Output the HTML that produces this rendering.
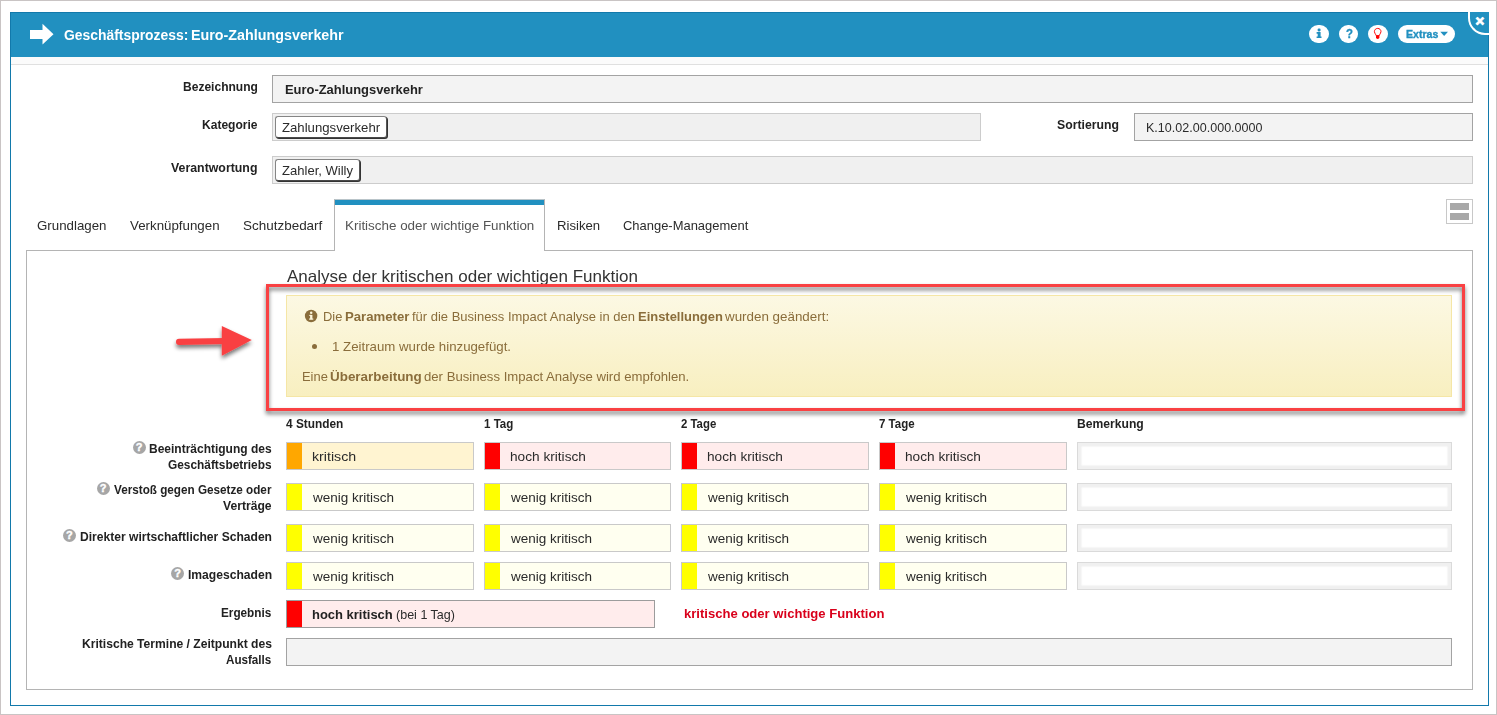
<!DOCTYPE html>
<html lang="de">
<head>
<meta charset="utf-8">
<title>Geschäftsprozess: Euro-Zahlungsverkehr</title>
<style>
html,body{margin:0;padding:0;}
body{width:1497px;height:715px;position:relative;overflow:hidden;background:#fff;font-family:"Liberation Sans",sans-serif;font-size:13px;color:#333;}
.abs,.t,.cell,.rem,.q,.box{position:absolute;box-sizing:border-box;}
.t{white-space:pre;line-height:20px;transform-origin:0 0;display:block;}
#frame{left:0;top:0;width:1497px;height:715px;border:1px solid #c9c4c4;}
#dlg{left:10px;top:12px;width:1479px;height:694px;border:1px solid #1279ab;background:#fff;}
#hdr{left:10px;top:12px;width:1479px;height:45px;background:#2190c0;border-top:1px solid #1279ab;border-left:1px solid #1279ab;border-right:1px solid #1279ab;overflow:hidden;}
#band{left:11px;top:57px;width:1477px;height:7px;background:#fbfbfb;border-bottom:1px solid #e0e0e0;box-sizing:content-box;}
.badge{position:absolute;top:25px;height:18px;background:#fff;border-radius:9px;}
#close{left:1468px;top:12px;width:21px;height:23px;border-left:2px solid #fff;border-bottom:2px solid #fff;border-bottom-left-radius:17px;background:#2190c0;}
.inp{background:#f3f3f3;border:1px solid #a3a3a3;}
.inp2{background:#f0f0f0;border:1px solid #ccc;}
.tag{background:#fff;border:1px solid #858585;border-right-color:#555;border-bottom-color:#4a4a4a;border-radius:3px;box-shadow:1px 1px 0 #333;}
#panel{left:26px;top:250px;width:1447px;height:440px;border:1px solid #b4b4b4;background:#fff;}
#atab{left:334px;top:199px;width:211px;height:52px;background:#fff;border-left:1px solid #b4b4b4;border-right:1px solid #b4b4b4;border-top:1px solid #b9c4c9;}
#atab b{position:absolute;left:0;top:0;width:100%;height:5px;background:#2190c0;display:block;}
#toggle{left:1446px;top:199px;width:27px;height:25px;border:1px solid #c8c8c8;background:#fff;}
#toggle i{position:absolute;left:3px;width:19px;height:7px;background:#a8a8a8;}
#alert{left:286px;top:295px;width:1166px;height:102px;border:1px solid #f5e6a6;background:linear-gradient(#fcf8e3,#f8efc0);}
#red{left:266px;top:284px;width:1199px;height:127px;border:3px solid #f94143;filter:drop-shadow(0.5px 3px 2px rgba(0,0,0,.56));}
.cell{height:28px;border:1px solid #c9c9c9;}
.cell i{position:absolute;left:0;top:0;width:15px;height:26px;}
.rem{height:28px;border:1px solid #dadada;background:#fff;box-shadow:inset 0 0 1.5px 3.5px #f0f0f0;}
.q{width:13px;height:13px;border-radius:50%;background:#a6a6a6;color:#fff;font-size:11px;font-weight:700;line-height:13.5px;text-align:center;-webkit-text-stroke:.4px #fff;}
</style>
</head>
<body>
<div class="abs" id="dlg"></div>
<div class="abs" id="hdr"></div>
<div class="abs" id="close"></div>
<div class="abs" id="band"></div>

<!-- header arrow -->
<svg class="abs" style="left:28px;top:22px" width="28" height="25" viewBox="28 22 28 25"><polygon points="30,30 42.5,30 42.5,23.8 53.5,34.3 42.5,44.6 42.5,39 30,39" fill="#fff"/></svg>

<!-- header badges -->
<div class="badge" style="left:1309px;width:20px"></div>
<div class="badge" style="left:1339px;width:19px"></div>
<div class="badge" style="left:1368px;width:20px"></div>
<div class="badge" style="left:1398px;width:57px"></div>
<svg class="abs" style="left:1316px;top:28px" width="6" height="11" viewBox="0 0 6 11"><rect x="1.6" y="0.6" width="3" height="2.8" rx="1.1" fill="#2190c0"/><path d="M0.6 4.1 H4.6 V8.5 H5.5 V10 H0.6 V8.5 H1.7 V5.7 H0.6 Z" fill="#2190c0"/></svg>
<span class="t" style="left:1345.6px;top:23.6px;font-size:12px;font-weight:700;color:#2190c0;-webkit-text-stroke:.3px #2190c0;transform:scaleX(.95)">?</span>
<svg class="abs" style="left:1373.2px;top:27px" width="9.4" height="13" viewBox="0 0 10 13" preserveAspectRatio="none"><path d="M5 1.4 C2.9 1.4 1.5 2.9 1.5 4.6 C1.5 5.9 2.5 6.6 3 7.8 L3.3 8.6 L6.7 8.6 L7 7.8 C7.5 6.6 8.5 5.9 8.5 4.6 C8.5 2.9 7.1 1.4 5 1.4 Z" fill="none" stroke="#f00" stroke-width="1"/><path d="M3.2 8.4 H6.8 V10.4 Q6.8 11.8 5 11.9 Q3.2 11.8 3.2 10.4 Z" fill="#f00"/></svg>
<svg class="abs" style="left:1440px;top:31px" width="9" height="6" viewBox="0 0 9 6"><polygon points="0.3,0.8 8,0.8 4.15,5" fill="#2190c0"/></svg>
<span class="t" style="left:1475.4px;top:10.8px;font-size:15px;font-weight:700;color:#fff;-webkit-text-stroke:.9px #fff;">×</span>

<!-- form fields -->
<div class="abs inp" style="left:272px;top:75px;width:1201px;height:28px"></div>
<div class="abs inp2" style="left:272px;top:113px;width:709px;height:28px"></div>
<div class="abs inp" style="left:1134px;top:113px;width:339px;height:28px"></div>
<div class="abs inp2" style="left:272px;top:156px;width:1201px;height:28px"></div>
<div class="abs tag" style="left:275px;top:116px;width:112px;height:22px"></div>
<div class="abs tag" style="left:275px;top:159px;width:85px;height:22px"></div>

<!-- tabs / panel -->
<div class="abs" id="panel"></div>
<div class="abs" id="atab"><b></b></div>
<div class="abs" id="toggle"><i style="top:3px"></i><i style="top:13px"></i></div>

<!-- alert -->
<div class="abs" id="alert"></div>
<svg class="abs" style="left:304px;top:309px;overflow:visible" width="14" height="14" viewBox="0 0 14 14"><circle cx="7.1" cy="7" r="6.2" fill="#8a6d3b"/><rect x="6.1" y="5.9" width="2.3" height="4.4" fill="#fcf6dd"/><rect x="5.3" y="5.9" width="2" height="1.1" fill="#fcf6dd"/><rect x="5.1" y="9.5" width="4.2" height="1.2" fill="#fcf6dd"/><circle cx="7.2" cy="3.8" r="1.25" fill="#fcf6dd"/></svg>
<div class="abs" style="left:312px;top:344px;width:5px;height:5px;border-radius:50%;background:#8a6d3b"></div>

<!-- red pointer arrow -->
<svg class="abs" style="left:165px;top:315px;overflow:visible" width="100" height="55" viewBox="165 315 100 55">
  <defs><filter id="sh" x="-30%" y="-50%" width="160%" height="220%"><feGaussianBlur in="SourceAlpha" stdDeviation="2.1"/><feOffset dx="0" dy="2.8" result="o"/><feComponentTransfer><feFuncA type="linear" slope=".55"/></feComponentTransfer><feMerge><feMergeNode/><feMergeNode in="SourceGraphic"/></feMerge></filter></defs>
  <g filter="url(#sh)"><line x1="179.1" y1="341.9" x2="225" y2="341" stroke="#f94143" stroke-width="6.2" stroke-linecap="round"/><polygon points="221.8,326 251.8,340 221.8,355.8" fill="#f94143"/></g>
</svg>

<!-- grid cells -->
<div class="cell" style="left:286.0px;top:442px;width:187.7px;background:#fff4d1"><i style="background:#ffa700"></i></div>
<div class="cell" style="left:483.7px;top:442px;width:187.7px;background:#ffecec"><i style="background:#ff0000"></i></div>
<div class="cell" style="left:681.3px;top:442px;width:187.7px;background:#ffecec"><i style="background:#ff0000"></i></div>
<div class="cell" style="left:879.0px;top:442px;width:187.7px;background:#ffecec"><i style="background:#ff0000"></i></div>
<div class="rem" style="left:1076.7px;top:442px;width:375.3px"></div>
<div class="cell" style="left:286.0px;top:483px;width:187.7px;background:#fffff0"><i style="background:#ffff00"></i></div>
<div class="cell" style="left:483.7px;top:483px;width:187.7px;background:#fffff0"><i style="background:#ffff00"></i></div>
<div class="cell" style="left:681.3px;top:483px;width:187.7px;background:#fffff0"><i style="background:#ffff00"></i></div>
<div class="cell" style="left:879.0px;top:483px;width:187.7px;background:#fffff0"><i style="background:#ffff00"></i></div>
<div class="rem" style="left:1076.7px;top:483px;width:375.3px"></div>
<div class="cell" style="left:286.0px;top:524px;width:187.7px;background:#fffff0"><i style="background:#ffff00"></i></div>
<div class="cell" style="left:483.7px;top:524px;width:187.7px;background:#fffff0"><i style="background:#ffff00"></i></div>
<div class="cell" style="left:681.3px;top:524px;width:187.7px;background:#fffff0"><i style="background:#ffff00"></i></div>
<div class="cell" style="left:879.0px;top:524px;width:187.7px;background:#fffff0"><i style="background:#ffff00"></i></div>
<div class="rem" style="left:1076.7px;top:524px;width:375.3px"></div>
<div class="cell" style="left:286.0px;top:562px;width:187.7px;background:#fffff0"><i style="background:#ffff00"></i></div>
<div class="cell" style="left:483.7px;top:562px;width:187.7px;background:#fffff0"><i style="background:#ffff00"></i></div>
<div class="cell" style="left:681.3px;top:562px;width:187.7px;background:#fffff0"><i style="background:#ffff00"></i></div>
<div class="cell" style="left:879.0px;top:562px;width:187.7px;background:#fffff0"><i style="background:#ffff00"></i></div>
<div class="rem" style="left:1076.7px;top:562px;width:375.3px"></div>
<div class="abs" style="left:286px;top:600px;width:369px;height:28px;border:1px solid #9c9c9c;background:#ffecec"><i style="position:absolute;left:0;top:0;width:15px;height:26px;background:#f00"></i></div>
<div class="abs inp" style="left:286px;top:638px;width:1166px;height:28px"></div>
<span class="q" style="left:132.5px;top:440.7px">?</span>
<span class="q" style="left:96.7px;top:482.4px">?</span>
<span class="q" style="left:62.9px;top:528.9px">?</span>
<span class="q" style="left:171.0px;top:566.9px">?</span>

<span class="t" style="left:64.00px;top:24.6px;font-size:14px;color:#fff;transform:scaleX(0.9919);font-weight:700">Geschäftsprozess:</span>
<span class="t" style="left:190.58px;top:24.6px;font-size:14px;color:#fff;transform:scaleX(1.0219);font-weight:700">Euro-Zahlungsverkehr</span>
<span class="t" style="left:1405.58px;top:24.0px;font-size:11px;color:#2190c0;transform:scaleX(0.9600);font-weight:700;-webkit-text-stroke:.35px #2190c0">Extras</span>
<span class="t" style="left:182.81px;top:76.5px;font-size:13px;color:#222;transform:scaleX(0.9262);font-weight:700">Bezeichnung</span>
<span class="t" style="left:201.81px;top:114.5px;font-size:13px;color:#222;transform:scaleX(0.9260);font-weight:700">Kategorie</span>
<span class="t" style="left:171.20px;top:157.5px;font-size:13px;color:#222;transform:scaleX(0.9496);font-weight:700">Verantwortung</span>
<span class="t" style="left:1057.23px;top:114.8px;font-size:13px;color:#222;transform:scaleX(0.9426);font-weight:700">Sortierung</span>
<span class="t" style="left:285.15px;top:79.7px;font-size:13px;color:#222;transform:scaleX(0.9938);font-weight:700">Euro-Zahlungsverkehr</span>
<span class="t" style="left:282.19px;top:117.5px;font-size:13px;color:#2b2b2b;transform:scaleX(1.0130)">Zahlungsverkehr</span>
<span class="t" style="left:282.20px;top:160.5px;font-size:13px;color:#2b2b2b;transform:scaleX(1.0036)">Zahler, Willy</span>
<span class="t" style="left:1146.43px;top:117.5px;font-size:13px;color:#2b2b2b;transform:scaleX(0.9652)">K.10.02.00.000.0000</span>
<span class="t" style="left:36.89px;top:215.5px;font-size:13px;color:#2b2b2b;transform:scaleX(1.0226)">Grundlagen</span>
<span class="t" style="left:129.70px;top:215.5px;font-size:13px;color:#2b2b2b;transform:scaleX(1.0236)">Verknüpfungen</span>
<span class="t" style="left:242.62px;top:215.5px;font-size:13px;color:#2b2b2b;transform:scaleX(1.0355)">Schutzbedarf</span>
<span class="t" style="left:345.07px;top:215.5px;font-size:13px;color:#555;transform:scaleX(1.0316)">Kritische oder wichtige Funktion</span>
<span class="t" style="left:557.49px;top:215.5px;font-size:13px;color:#2b2b2b;transform:scaleX(1.0110)">Risiken</span>
<span class="t" style="left:623.45px;top:215.5px;font-size:13px;color:#2b2b2b;transform:scaleX(0.9960)">Change-Management</span>
<span class="t" style="left:286.60px;top:266.3px;font-size:16.5px;color:#333;transform:scaleX(1.0314)">Analyse der kritischen oder wichtigen Funktion</span>
<span class="t" style="left:322.71px;top:306.5px;font-size:13px;color:#8a6d3b;transform:scaleX(0.9944)">Die</span>
<span class="t" style="left:344.64px;top:306.5px;font-size:13px;color:#8a6d3b;transform:scaleX(1.0135);font-weight:700">Parameter</span>
<span class="t" style="left:412.05px;top:306.5px;font-size:13px;color:#8a6d3b;transform:scaleX(0.9984)">für die Business Impact Analyse in den</span>
<span class="t" style="left:637.55px;top:306.5px;font-size:13px;color:#8a6d3b;transform:scaleX(0.9958);font-weight:700">Einstellungen</span>
<span class="t" style="left:725.10px;top:306.5px;font-size:13px;color:#8a6d3b;transform:scaleX(1.0290)">wurden geändert:</span>
<span class="t" style="left:332.08px;top:336.5px;font-size:13px;color:#8a6d3b;transform:scaleX(1.0196)">1 Zeitraum wurde hinzugefügt.</span>
<span class="t" style="left:302.11px;top:366.5px;font-size:13px;color:#8a6d3b;transform:scaleX(0.9918)">Eine</span>
<span class="t" style="left:330.03px;top:366.5px;font-size:13px;color:#8a6d3b;transform:scaleX(1.0327);font-weight:700">Überarbeitung</span>
<span class="t" style="left:424.19px;top:366.5px;font-size:13px;color:#8a6d3b;transform:scaleX(1.0113)">der Business Impact Analyse wird empfohlen.</span>
<span class="t" style="left:286.15px;top:413.8px;font-size:12px;color:#222;transform:scaleX(0.9877);font-weight:700">4 Stunden</span>
<span class="t" style="left:483.68px;top:413.8px;font-size:12px;color:#222;transform:scaleX(0.9621);font-weight:700">1 Tag</span>
<span class="t" style="left:681.43px;top:413.8px;font-size:12px;color:#222;transform:scaleX(0.9490);font-weight:700">2 Tage</span>
<span class="t" style="left:878.92px;top:413.8px;font-size:12px;color:#222;transform:scaleX(0.9572);font-weight:700">7 Tage</span>
<span class="t" style="left:1076.64px;top:413.8px;font-size:12px;color:#222;transform:scaleX(1.0109);font-weight:700">Bemerkung</span>
<span class="t" style="left:148.95px;top:438.8px;font-size:12px;color:#222;transform:scaleX(0.9992);font-weight:700">Beeinträchtigung des</span>
<span class="t" style="left:168.01px;top:454.8px;font-size:12px;color:#222;transform:scaleX(0.9889);font-weight:700">Geschäftsbetriebs</span>
<span class="t" style="left:113.80px;top:480.3px;font-size:12px;color:#222;transform:scaleX(0.9755);font-weight:700">Verstoß gegen Gesetze oder</span>
<span class="t" style="left:222.80px;top:495.8px;font-size:12px;color:#222;transform:scaleX(1.0115);font-weight:700">Verträge</span>
<span class="t" style="left:79.85px;top:526.8px;font-size:12px;color:#222;transform:scaleX(1.0066);font-weight:700">Direkter wirtschaftlicher Schaden</span>
<span class="t" style="left:187.64px;top:565.0px;font-size:12px;color:#222;transform:scaleX(1.0085);font-weight:700">Imageschaden</span>
<span class="t" style="left:221.17px;top:602.8px;font-size:12px;color:#222;transform:scaleX(0.9791);font-weight:700">Ergebnis</span>
<span class="t" style="left:81.64px;top:633.5px;font-size:12px;color:#222;transform:scaleX(1.0077);font-weight:700">Kritische Termine / Zeitpunkt des</span>
<span class="t" style="left:226.26px;top:649.5px;font-size:12px;color:#222;transform:scaleX(0.9696);font-weight:700">Ausfalls</span>
<span class="t" style="left:311.98px;top:446.6px;font-size:13px;color:#2b2b2b;transform:scaleX(1.0916)">kritisch</span>
<span class="t" style="left:509.71px;top:446.6px;font-size:13px;color:#2b2b2b;transform:scaleX(1.0502)">hoch kritisch</span>
<span class="t" style="left:707.31px;top:446.6px;font-size:13px;color:#2b2b2b;transform:scaleX(1.0502)">hoch kritisch</span>
<span class="t" style="left:905.01px;top:446.6px;font-size:13px;color:#2b2b2b;transform:scaleX(1.0502)">hoch kritisch</span>
<span class="t" style="left:312.80px;top:487.6px;font-size:13px;color:#2b2b2b;transform:scaleX(1.0382)">wenig kritisch</span>
<span class="t" style="left:510.50px;top:487.6px;font-size:13px;color:#2b2b2b;transform:scaleX(1.0382)">wenig kritisch</span>
<span class="t" style="left:708.10px;top:487.6px;font-size:13px;color:#2b2b2b;transform:scaleX(1.0382)">wenig kritisch</span>
<span class="t" style="left:905.80px;top:487.6px;font-size:13px;color:#2b2b2b;transform:scaleX(1.0382)">wenig kritisch</span>
<span class="t" style="left:312.80px;top:528.6px;font-size:13px;color:#2b2b2b;transform:scaleX(1.0382)">wenig kritisch</span>
<span class="t" style="left:510.50px;top:528.6px;font-size:13px;color:#2b2b2b;transform:scaleX(1.0382)">wenig kritisch</span>
<span class="t" style="left:708.10px;top:528.6px;font-size:13px;color:#2b2b2b;transform:scaleX(1.0382)">wenig kritisch</span>
<span class="t" style="left:905.80px;top:528.6px;font-size:13px;color:#2b2b2b;transform:scaleX(1.0382)">wenig kritisch</span>
<span class="t" style="left:312.80px;top:566.6px;font-size:13px;color:#2b2b2b;transform:scaleX(1.0382)">wenig kritisch</span>
<span class="t" style="left:510.50px;top:566.6px;font-size:13px;color:#2b2b2b;transform:scaleX(1.0382)">wenig kritisch</span>
<span class="t" style="left:708.10px;top:566.6px;font-size:13px;color:#2b2b2b;transform:scaleX(1.0382)">wenig kritisch</span>
<span class="t" style="left:905.80px;top:566.6px;font-size:13px;color:#2b2b2b;transform:scaleX(1.0382)">wenig kritisch</span>
<span class="t" style="left:312.15px;top:604.5px;font-size:13px;color:#222;transform:scaleX(0.9981);font-weight:700">hoch kritisch</span>
<span class="t" style="left:395.68px;top:604.5px;font-size:13px;color:#2b2b2b;transform:scaleX(0.9640)">(bei 1 Tag)</span>
<span class="t" style="left:684.35px;top:603.5px;font-size:13px;color:#d9001b;transform:scaleX(1.0053);font-weight:700">kritische oder wichtige Funktion</span>
<div class="abs" id="red"></div>
<div class="abs" id="frame"></div>
</body>
</html>
